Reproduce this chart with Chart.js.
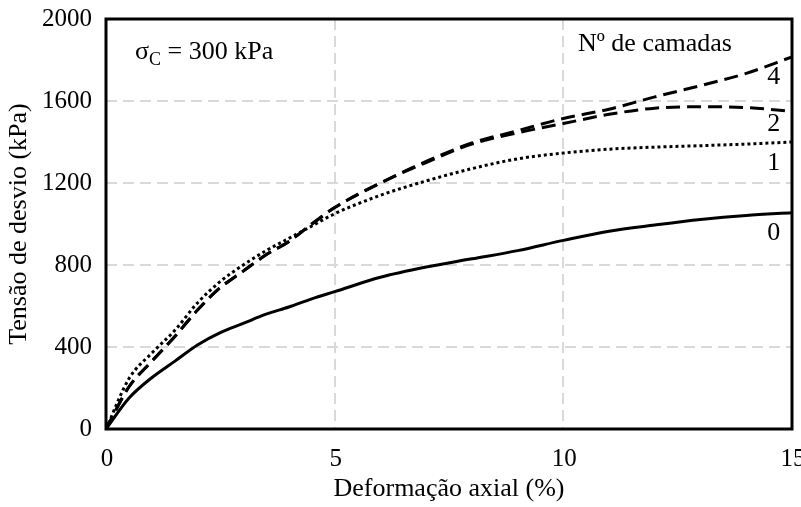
<!DOCTYPE html>
<html>
<head>
<meta charset="utf-8">
<script src="https://cdn.jsdelivr.net/npm/chart.js@4/dist/chart.umd.min.js"></script>
<style>
  html, body { margin: 0; padding: 0; background: #fff; }
  #wrap { width: 801px; height: 507px; position: relative; }
</style>
</head>
<body>
<div id="wrap"><canvas id="chart"></canvas></div>
<script>
// Deformação axial (%) and tensão de desvio (kPa) for each number of layers
const strain = [0, 0.5, 1, 1.5, 2, 2.5, 3, 3.5, 4, 4.5, 5, 6, 7, 8, 9, 10, 11, 12, 13, 14, 15];
const camadas0 = [0, 150, 250, 330, 410, 470, 515, 560, 595, 635, 670, 740, 790, 830, 870, 920, 965, 995, 1022, 1042, 1055];
const camadas1 = [0, 245, 370, 480, 615, 720, 800, 870, 930, 990, 1050, 1140, 1210, 1270, 1318, 1346, 1365, 1375, 1382, 1390, 1400];
const camadas2 = [0, 205, 330, 450, 580, 690, 770, 850, 915, 1000, 1080, 1200, 1300, 1390, 1445, 1490, 1535, 1565, 1572, 1568, 1550];
const camadas4 = [0, 205, 330, 450, 580, 690, 770, 850, 915, 1000, 1080, 1200, 1305, 1395, 1455, 1515, 1560, 1620, 1675, 1735, 1815];

const xTicks = [0, 5, 10, 15];
const yTicks = [0, 400, 800, 1200, 1600, 2000];

// curve labels near the right edge: [text, strain, stress]
const curveLabels = [["4", 14.6, 1717], ["2", 14.6, 1488], ["1", 14.6, 1298], ["0", 14.6, 956]];

const FONT = "'Liberation Serif', 'Times New Roman', serif";

function toPoints(ys) {
  return strain.map((x, i) => ({ x: x, y: ys[i] }));
}

function lineSet(label, ys, dash, width) {
  return {
    label: label,
    data: toPoints(ys),
    showLine: true,
    borderColor: "#000",
    borderWidth: width,
    borderDash: dash,
    pointRadius: 0,
    cubicInterpolationMode: "monotone",
    fill: false,
  };
}

// frame + text annotations
const decorations = {
  id: "decorations",
  afterDatasetsDraw(chart) {
    const { ctx, chartArea: a, scales } = chart;
    ctx.save();
    ctx.strokeStyle = "#000";
    ctx.lineWidth = 3;
    ctx.strokeRect(a.left, a.top, a.right - a.left, a.bottom - a.top);

    ctx.fillStyle = "#000";
    ctx.textBaseline = "middle";
    ctx.textAlign = "center";
    ctx.font = "26px " + FONT;
    curveLabels.forEach(([t, x, y]) => {
      ctx.fillText(t, scales.x.getPixelForValue(x), scales.y.getPixelForValue(y));
    });

    ctx.textAlign = "left";
    ctx.fillText("Nº de camadas", 578, 44);

    // sigma_C = 300 kPa
    let x = 135;
    ctx.fillText("σ", x, 52);
    x += ctx.measureText("σ").width;
    ctx.font = "18px " + FONT;
    ctx.fillText("C", x, 60);
    x += ctx.measureText("C").width;
    ctx.font = "26px " + FONT;
    ctx.fillText(" = 300 kPa", x, 52);
    ctx.restore();
  },
};

const ctx = document.getElementById("chart").getContext("2d");
new Chart(ctx, {
  type: "scatter",
  data: {
    datasets: [
      lineSet("0", camadas0, [], 3),
      lineSet("1", camadas1, [3, 3], 3),
      lineSet("2", camadas2, [14, 7], 3),
      lineSet("4", camadas4, [14, 7], 3),
    ],
  },
  options: {
    responsive: true,
    maintainAspectRatio: false,
    animation: false,
    layout: { padding: { top: 19, right: 9, left: 0, bottom: 0 } },
    plugins: { legend: { display: false }, tooltip: { enabled: false } },
    scales: {
      x: {
        type: "linear",
        min: 0,
        max: 15,
        afterBuildTicks: (s) => { s.ticks = xTicks.map((v) => ({ value: v })); },
        afterFit: (s) => { s.height = 78; s.paddingLeft = 0; s.paddingRight = 0; },
        grid: {
          color: (c) => (c.tick.value === 0 || c.tick.value === 15 ? "rgba(0,0,0,0)" : "#d9d9d9"),
          lineWidth: 2,
          drawTicks: false,
        },
        border: { display: false, dash: [11, 6] },
        ticks: {
          color: "#000",
          font: { family: FONT, size: 25 },
          padding: 15,
          labelOffset: 1,
          callback: (v) => String(v),
        },
        title: {
          display: true,
          text: "Deformação axial (%)",
          color: "#000",
          font: { family: FONT, size: 26 },
          padding: { top: 0, bottom: 2 },
        },
      },
      y: {
        min: 0,
        max: 2000,
        afterBuildTicks: (s) => { s.ticks = yTicks.map((v) => ({ value: v })); },
        afterFit: (s) => { s.width = 106; s.paddingTop = 0; s.paddingBottom = 0; },
        grid: {
          color: (c) => (c.tick.value === 0 || c.tick.value === 2000 ? "rgba(0,0,0,0)" : "#d9d9d9"),
          lineWidth: 2,
          drawTicks: false,
        },
        border: { display: false, dash: [11, 6] },
        ticks: {
          color: "#000",
          font: { family: FONT, size: 25 },
          padding: 14,
          callback: (v) => String(v),
        },
        title: {
          display: true,
          text: "Tensão de desvio (kPa)",
          color: "#000",
          font: { family: FONT, size: 26 },
          padding: { top: 4, bottom: 0 },
        },
      },
    },
  },
  plugins: [decorations],
});
</script>
</body>
</html>
